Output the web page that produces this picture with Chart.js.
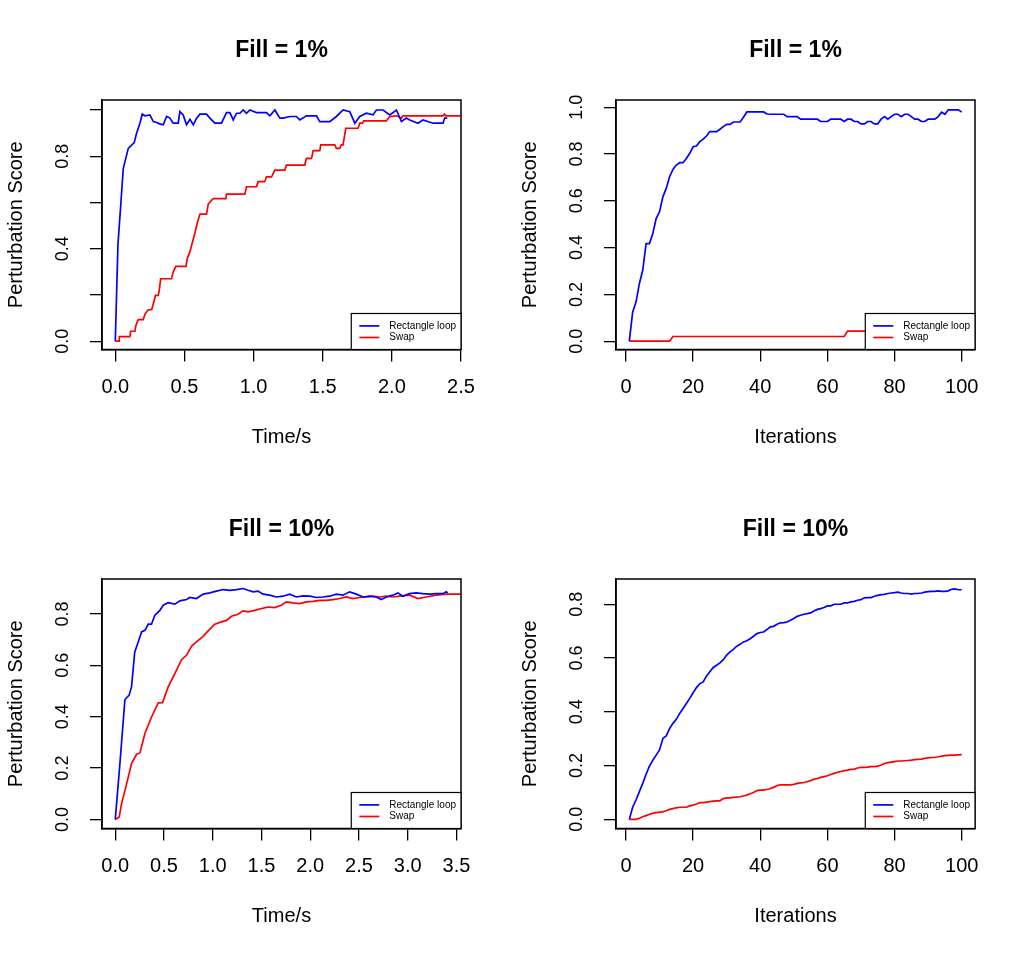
<!DOCTYPE html>
<html>
<head>
<meta charset="utf-8">
<script src="https://cdn.jsdelivr.net/npm/chart.js@4/dist/chart.umd.min.js"></script>
<style>
  html, body { margin: 0; padding: 0; background: #fff; }
  body { width: 1028px; height: 957px; position: relative; overflow: hidden; }
  canvas { position: absolute; }
</style>
</head>
<body>
<canvas id="c1" width="514" height="478" style="left:0;top:0"></canvas>
<canvas id="c2" width="514" height="478" style="left:514px;top:0"></canvas>
<canvas id="c3" width="514" height="478" style="left:0;top:479px"></canvas>
<canvas id="c4" width="514" height="478" style="left:514px;top:479px"></canvas>
<script>
// ---------------- DATA ----------------
const seriesNames = ['Rectangle loop', 'Swap'];
const panelTitles = ['Fill = 1%', 'Fill = 1%', 'Fill = 10%', 'Fill = 10%'];
const xTitles = ['Time/s', 'Iterations', 'Time/s', 'Iterations'];
const yTitle = 'Perturbation Score';

// tick values / labels
const xTicksTime1 = [0, 0.5, 1.0, 1.5, 2.0, 2.5];
const xLabelsTime1 = ['0.0', '0.5', '1.0', '1.5', '2.0', '2.5'];
const xTicksTime2 = [0, 0.5, 1.0, 1.5, 2.0, 2.5, 3.0, 3.5];
const xLabelsTime2 = ['0.0', '0.5', '1.0', '1.5', '2.0', '2.5', '3.0', '3.5'];
const xTicksIter = [0, 20, 40, 60, 80, 100];
const xLabelsIter = ['0', '20', '40', '60', '80', '100'];
const yTicks1 = [0, 0.2, 0.4, 0.6, 0.8, 1.0];
const yLabels1 = ['0.0', '', '0.4', '', '0.8', ''];
const yLabels2 = ['0.0', '0.2', '0.4', '0.6', '0.8', '1.0'];
const yTicks3 = [0, 0.2, 0.4, 0.6, 0.8];
const yLabels3 = ['0.0', '0.2', '0.4', '0.6', '0.8'];

// Panel 1: Fill = 1%, time
const p1RectTime = [0, 0.019, 0.058, 0.094, 0.137, 0.154, 0.178, 0.195, 0.214, 0.25, 0.275, 0.3, 0.32, 0.347, 0.371, 0.395, 0.419, 0.455, 0.467, 0.491, 0.515, 0.54, 0.564, 0.588, 0.612, 0.66, 0.684, 0.72, 0.768, 0.804, 0.829, 0.853, 0.877, 0.901, 0.925, 0.949, 0.973, 1.021, 1.093, 1.118, 1.154, 1.19, 1.214, 1.262, 1.31, 1.334, 1.382, 1.455, 1.479, 1.551, 1.599, 1.647, 1.696, 1.732, 1.768, 1.816, 1.864, 1.888, 1.936, 1.985, 2.033, 2.069, 2.105, 2.129, 2.189, 2.225, 2.298, 2.37, 2.382, 2.401];
const p1RectScore = [0, 0.415, 0.748, 0.834, 0.859, 0.9, 0.943, 0.982, 0.975, 0.979, 0.95, 0.946, 0.94, 0.936, 0.972, 0.965, 0.943, 0.943, 0.993, 0.979, 0.936, 0.96, 0.936, 0.965, 0.982, 0.982, 0.965, 0.943, 0.943, 0.989, 0.989, 0.957, 0.986, 0.986, 1.0, 0.986, 1.0, 0.989, 0.989, 0.975, 1.0, 0.965, 0.965, 0.972, 0.972, 0.957, 0.975, 0.975, 0.95, 0.95, 0.972, 1.0, 0.993, 0.943, 0.972, 0.986, 0.979, 1.0, 1.0, 0.979, 1.0, 0.95, 0.965, 0.957, 0.943, 0.957, 0.943, 0.943, 0.965, 0.965];
const p1SwapTime = [0, 0.029, 0.029, 0.106, 0.111, 0.142, 0.149, 0.166, 0.202, 0.214, 0.238, 0.263, 0.275, 0.291, 0.311, 0.318, 0.328, 0.407, 0.419, 0.438, 0.511, 0.52, 0.54, 0.552, 0.576, 0.592, 0.612, 0.66, 0.672, 0.708, 0.8, 0.804, 0.937, 0.949, 1.021, 1.033, 1.081, 1.093, 1.13, 1.154, 1.226, 1.238, 1.37, 1.382, 1.419, 1.431, 1.479, 1.486, 1.587, 1.599, 1.623, 1.635, 1.647, 1.667, 1.756, 1.768, 1.787, 1.797, 1.96, 1.985, 2.033, 2.069, 2.08, 2.37, 2.38, 2.39, 2.498];
const p1SwapScore = [0, 0, 0.02, 0.02, 0.043, 0.043, 0.068, 0.093, 0.093, 0.116, 0.136, 0.136, 0.162, 0.198, 0.198, 0.22, 0.27, 0.27, 0.3, 0.324, 0.324, 0.357, 0.386, 0.415, 0.468, 0.509, 0.55, 0.55, 0.593, 0.617, 0.617, 0.636, 0.636, 0.668, 0.668, 0.69, 0.69, 0.711, 0.711, 0.74, 0.74, 0.762, 0.762, 0.791, 0.791, 0.824, 0.824, 0.849, 0.849, 0.834, 0.834, 0.849, 0.849, 0.921, 0.921, 0.943, 0.943, 0.953, 0.953, 0.972, 0.975, 0.965, 0.975, 0.975, 0.982, 0.975, 0.975];

// Iteration index (panels 2 and 4)
const iterations = [1, 2, 3, 4, 5, 6, 7, 8, 9, 10, 11, 12, 13, 14, 15, 16, 17, 18, 19, 20, 21, 22, 23, 24, 25, 26, 27, 28, 29, 30, 31, 32, 33, 34, 35, 36, 37, 38, 39, 40, 41, 42, 43, 44, 45, 46, 47, 48, 49, 50, 51, 52, 53, 54, 55, 56, 57, 58, 59, 60, 61, 62, 63, 64, 65, 66, 67, 68, 69, 70, 71, 72, 73, 74, 75, 76, 77, 78, 79, 80, 81, 82, 83, 84, 85, 86, 87, 88, 89, 90, 91, 92, 93, 94, 95, 96, 97, 98, 99, 100];

// Panel 2: Fill = 1%, iterations
const p2Rect = [0, 0.124, 0.167, 0.246, 0.303, 0.417, 0.417, 0.46, 0.524, 0.553, 0.617, 0.653, 0.703, 0.734, 0.753, 0.763, 0.763, 0.781, 0.803, 0.831, 0.834, 0.853, 0.864, 0.877, 0.896, 0.896, 0.896, 0.906, 0.917, 0.927, 0.927, 0.937, 0.937, 0.937, 0.957, 0.98, 0.98, 0.98, 0.98, 0.98, 0.98, 0.971, 0.97, 0.97, 0.97, 0.97, 0.97, 0.96, 0.96, 0.96, 0.96, 0.949, 0.949, 0.949, 0.949, 0.949, 0.949, 0.939, 0.939, 0.939, 0.949, 0.949, 0.949, 0.949, 0.939, 0.949, 0.949, 0.939, 0.939, 0.929, 0.929, 0.939, 0.939, 0.929, 0.929, 0.949, 0.96, 0.949, 0.96, 0.97, 0.97, 0.96, 0.97, 0.97, 0.96, 0.949, 0.949, 0.939, 0.939, 0.949, 0.949, 0.949, 0.96, 0.979, 0.97, 0.989, 0.989, 0.989, 0.989, 0.979];
const p2Swap = [0, 0, 0, 0, 0, 0, 0, 0, 0, 0, 0, 0, 0, 0.02, 0.02, 0.02, 0.02, 0.02, 0.02, 0.02, 0.02, 0.02, 0.02, 0.02, 0.02, 0.02, 0.02, 0.02, 0.02, 0.02, 0.02, 0.02, 0.02, 0.02, 0.02, 0.02, 0.02, 0.02, 0.02, 0.02, 0.02, 0.02, 0.02, 0.02, 0.02, 0.02, 0.02, 0.02, 0.02, 0.02, 0.02, 0.02, 0.02, 0.02, 0.02, 0.02, 0.02, 0.02, 0.02, 0.02, 0.02, 0.02, 0.02, 0.02, 0.02, 0.043, 0.043, 0.043, 0.043, 0.043, 0.043, 0.043, 0.043, 0.043, 0.043, 0.043, 0.043, 0.043, 0.043, 0.043, 0.043, 0.043, 0.043, 0.043, 0.043, 0.043, 0.043, 0.043, 0.043, 0.043, 0.043, 0.043, 0.043, 0.043, 0.043, 0.043, 0.043, 0.043, 0.043, 0.043];

// Panel 3: Fill = 10%, time
const p3RectTime = [0, 0.048, 0.099, 0.143, 0.167, 0.2, 0.236, 0.27, 0.304, 0.338, 0.372, 0.406, 0.458, 0.492, 0.543, 0.611, 0.663, 0.731, 0.765, 0.833, 0.902, 0.97, 1.038, 1.107, 1.175, 1.243, 1.311, 1.363, 1.414, 1.465, 1.516, 1.585, 1.653, 1.721, 1.79, 1.858, 1.926, 1.995, 2.063, 2.131, 2.199, 2.268, 2.336, 2.404, 2.473, 2.541, 2.609, 2.678, 2.729, 2.78, 2.848, 2.9, 2.951, 3.019, 3.087, 3.156, 3.224, 3.292, 3.361, 3.395, 3.412];
const p3RectScore = [0, 0.218, 0.467, 0.484, 0.516, 0.652, 0.691, 0.73, 0.736, 0.76, 0.76, 0.795, 0.814, 0.834, 0.844, 0.838, 0.851, 0.856, 0.864, 0.86, 0.877, 0.882, 0.889, 0.895, 0.892, 0.895, 0.899, 0.892, 0.886, 0.889, 0.877, 0.873, 0.866, 0.869, 0.877, 0.866, 0.87, 0.869, 0.864, 0.866, 0.869, 0.877, 0.873, 0.886, 0.877, 0.866, 0.869, 0.866, 0.856, 0.866, 0.873, 0.882, 0.869, 0.879, 0.882, 0.879, 0.877, 0.879, 0.879, 0.886, 0.882];
const p3SwapTime = [0, 0.041, 0.065, 0.109, 0.167, 0.219, 0.253, 0.304, 0.372, 0.441, 0.485, 0.543, 0.611, 0.68, 0.731, 0.782, 0.833, 0.902, 0.953, 1.021, 1.089, 1.141, 1.192, 1.26, 1.311, 1.363, 1.431, 1.499, 1.568, 1.636, 1.704, 1.755, 1.824, 1.892, 1.96, 2.029, 2.097, 2.165, 2.234, 2.302, 2.37, 2.439, 2.507, 2.575, 2.643, 2.712, 2.78, 2.848, 2.917, 3.019, 3.104, 3.19, 3.292, 3.395, 3.542];
const p3SwapScore = [0, 0.01, 0.062, 0.127, 0.218, 0.254, 0.259, 0.335, 0.399, 0.454, 0.455, 0.516, 0.568, 0.622, 0.639, 0.674, 0.691, 0.713, 0.734, 0.76, 0.769, 0.775, 0.791, 0.799, 0.812, 0.808, 0.814, 0.821, 0.827, 0.825, 0.834, 0.847, 0.843, 0.84, 0.847, 0.849, 0.853, 0.853, 0.856, 0.86, 0.866, 0.86, 0.864, 0.866, 0.869, 0.866, 0.869, 0.866, 0.869, 0.873, 0.86, 0.866, 0.873, 0.877, 0.877];

// Panel 4: Fill = 10%, iterations
const p4Rect = [0, 0.045, 0.072, 0.103, 0.134, 0.168, 0.198, 0.22, 0.239, 0.258, 0.301, 0.31, 0.338, 0.357, 0.372, 0.394, 0.412, 0.431, 0.45, 0.471, 0.49, 0.505, 0.511, 0.533, 0.549, 0.565, 0.573, 0.582, 0.594, 0.611, 0.623, 0.632, 0.644, 0.651, 0.66, 0.664, 0.672, 0.681, 0.691, 0.695, 0.697, 0.706, 0.716, 0.718, 0.726, 0.731, 0.732, 0.734, 0.741, 0.747, 0.755, 0.759, 0.763, 0.765, 0.768, 0.775, 0.781, 0.784, 0.788, 0.794, 0.794, 0.8, 0.8, 0.8, 0.805, 0.805, 0.809, 0.811, 0.815, 0.817, 0.824, 0.825, 0.825, 0.83, 0.833, 0.836, 0.837, 0.84, 0.842, 0.843, 0.845, 0.842, 0.84, 0.84, 0.838, 0.84, 0.84, 0.842, 0.845, 0.847, 0.848, 0.848, 0.85, 0.848, 0.848, 0.85, 0.856, 0.857, 0.854, 0.854];
const p4Swap = [0, 0, 0, 0.004, 0.01, 0.014, 0.019, 0.022, 0.025, 0.027, 0.028, 0.032, 0.037, 0.04, 0.043, 0.045, 0.045, 0.045, 0.05, 0.053, 0.057, 0.062, 0.062, 0.064, 0.066, 0.068, 0.069, 0.069, 0.077, 0.08, 0.08, 0.082, 0.083, 0.084, 0.087, 0.09, 0.095, 0.1, 0.107, 0.109, 0.109, 0.111, 0.115, 0.119, 0.126, 0.128, 0.128, 0.128, 0.128, 0.13, 0.134, 0.136, 0.137, 0.14, 0.144, 0.149, 0.152, 0.156, 0.159, 0.162, 0.167, 0.171, 0.175, 0.178, 0.181, 0.183, 0.186, 0.187, 0.191, 0.193, 0.193, 0.194, 0.196, 0.196, 0.198, 0.202, 0.208, 0.211, 0.213, 0.215, 0.217, 0.217, 0.218, 0.219, 0.22, 0.222, 0.223, 0.224, 0.227, 0.229, 0.23, 0.23, 0.233, 0.235, 0.237, 0.238, 0.239, 0.239, 0.24, 0.241];

// ---------------- STYLE / RENDER ----------------
const FONT = '"Liberation Sans", Arial, Helvetica, sans-serif';
const BLUE = '#0000FF', RED = '#FF0000';

const framePlugin = {
  id: 'frame',
  afterDatasetsDraw(chart) {
    const { ctx, chartArea: a } = chart;
    ctx.save();
    ctx.strokeStyle = '#000';
    ctx.lineWidth = 1.5;
    ctx.strokeRect(a.left, a.top, a.right - a.left, a.bottom - a.top);
    ctx.restore();
  }
};

const boxLegendPlugin = {
  id: 'boxLegend',
  afterDraw(chart) {
    const { ctx, chartArea: a } = chart;
    const ds = chart.data.datasets;
    ctx.save();
    ctx.font = '10px ' + FONT;
    const tw = Math.max(...ds.map(d => ctx.measureText(d.label).width));
    const w = 8 + 20 + 10 + tw + 5, h = 36;
    const x0 = a.right - w, y0 = a.bottom - h;
    ctx.fillStyle = '#fff';
    ctx.fillRect(x0, y0, w, h);
    ctx.strokeStyle = '#000';
    ctx.lineWidth = 1.2;
    ctx.strokeRect(x0, y0, w, h);
    ds.forEach((d, i) => {
      const y = y0 + 12.4 + i * 11.6;
      ctx.strokeStyle = d.borderColor;
      ctx.lineWidth = 1.7;
      ctx.beginPath();
      ctx.moveTo(x0 + 8, y);
      ctx.lineTo(x0 + 28, y);
      ctx.stroke();
      ctx.fillStyle = '#000';
      ctx.textBaseline = 'middle';
      ctx.textAlign = 'left';
      ctx.fillText(d.label, x0 + 38, y);
    });
    ctx.restore();
  }
};

function pts(xs, ys) { return xs.map((x, i) => ({ x: x, y: ys[i] })); }

function makeChart(id, p) {
  const axisGrid = { display: true, drawOnChartArea: false, drawTicks: true, tickLength: 12, color: '#000', lineWidth: 1.3 };
  const axisBorder = { display: true, color: '#000', width: 1.5 };
  return new Chart(document.getElementById(id), {
    type: 'line',
    data: {
      datasets: [
        { label: seriesNames[0], data: pts(p.rx, p.ry), borderColor: BLUE, backgroundColor: BLUE, borderWidth: 1.7, pointRadius: 0, tension: 0, fill: false },
        { label: seriesNames[1], data: pts(p.sx, p.sy), borderColor: RED, backgroundColor: RED, borderWidth: 1.7, pointRadius: 0, tension: 0, fill: false }
      ]
    },
    options: {
      responsive: false,
      animation: false,
      devicePixelRatio: 1,
      events: [],
      layout: { padding: { left: 0, right: 53, top: 0, bottom: 0 } },
      plugins: {
        legend: { display: false },
        tooltip: { enabled: false },
        title: {
          display: true, text: p.title, fullSize: false, color: '#000',
          font: { family: FONT, size: 23, weight: 'bold' },
          padding: { top: 36.7, bottom: 35.7 }
        }
      },
      scales: {
        x: {
          type: 'linear', position: 'bottom', min: p.xmin, max: p.xmax,
          afterBuildTicks: s => { s.ticks = p.xt.map(v => ({ value: v })); },
          afterFit: s => { s.height = 128.5; },
          ticks: { autoSkip: false, minRotation: 0, maxRotation: 0, padding: 14, color: '#000',
                   font: { family: FONT, size: 20 }, callback: (v, i) => p.xl[i] },
          grid: axisGrid, border: axisBorder,
          title: { display: true, text: p.xTitle, color: '#000', font: { family: FONT, size: 20 }, padding: { top: 0, bottom: 29 } }
        },
        y: {
          type: 'linear', position: 'left', min: p.ymin, max: p.ymax,
          afterBuildTicks: s => { s.ticks = p.yt.map(v => ({ value: v })); },
          afterFit: s => { s.width = 102; },
          ticks: { autoSkip: false, minRotation: 90, maxRotation: 90, crossAlign: 'center', padding: 14.5, color: '#000',
                   font: { family: FONT, size: 18 }, callback: (v, i) => p.yl[i] },
          grid: axisGrid, border: axisBorder,
          title: { display: true, text: yTitle, color: '#000', font: { family: FONT, size: 20 }, padding: { top: 4, bottom: 0 } }
        }
      }
    },
    plugins: [framePlugin, boxLegendPlugin]
  });
}

makeChart('c1', { title: panelTitles[0], xTitle: xTitles[0], rx: p1RectTime, ry: p1RectScore, sx: p1SwapTime, sy: p1SwapScore,
  xmin: -0.0961, xmax: 2.5, xt: xTicksTime1, xl: xLabelsTime1, ymin: -0.036, ymax: 1.0433, yt: yTicks1, yl: yLabels1 });
makeChart('c2', { title: panelTitles[1], xTitle: xTitles[1], rx: iterations, ry: p2Rect, sx: iterations, sy: p2Swap,
  xmin: -2.96, xmax: 103.96, xt: xTicksIter, xl: xLabelsIter, ymin: -0.0356, ymax: 1.031, yt: yTicks1, yl: yLabels2 });
makeChart('c3', { title: panelTitles[2], xTitle: xTitles[2], rx: p3RectTime, ry: p3RectScore, sx: p3SwapTime, sy: p3SwapScore,
  xmin: -0.136, xmax: 3.547, xt: xTicksTime2, xl: xLabelsTime2, ymin: -0.035, ymax: 0.936, yt: yTicks3, yl: yLabels3 });
makeChart('c4', { title: panelTitles[3], xTitle: xTitles[3], rx: iterations, ry: p4Rect, sx: iterations, sy: p4Swap,
  xmin: -2.96, xmax: 103.96, xt: xTicksIter, xl: xLabelsIter, ymin: -0.034, ymax: 0.894, yt: yTicks3, yl: yLabels3 });
</script>
</body>
</html>
